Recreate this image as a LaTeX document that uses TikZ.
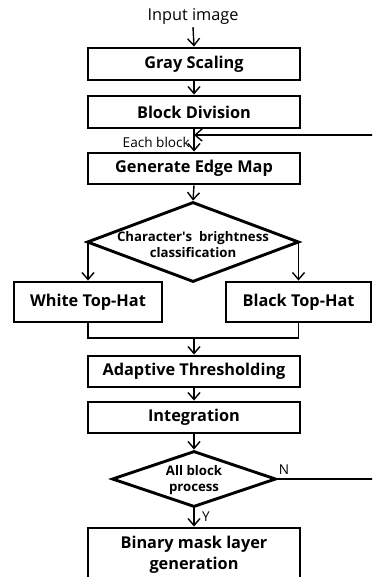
\documentclass[tikz,border=0pt]{standalone}
\usepackage{fontspec}
\setmainfont{Open Sans}
\usetikzlibrary{shapes.geometric,arrows.meta,calc}
\begin{document}
\begin{tikzpicture}[x=1pt,y=-1pt,
  procbox/.style={draw,line width=2.9pt,rectangle,minimum width=212pt,minimum height=32pt,inner sep=0pt,
     font=\fontsize{16.3}{18}\selectfont\bfseries,align=center},
  decbox/.style={draw,line width=2.9pt,diamond,inner sep=0pt,aspect=2.6},
  dectext/.style={font=\fontsize{13.2}{16}\selectfont\bfseries,align=center,inner sep=0pt},
  conn/.style={line width=1.4pt,-{Straight Barb[length=7pt,width=12pt,line width=1.4pt]}},
  plainline/.style={line width=1.4pt},
  small/.style={font=\fontsize{13.6}{15}\selectfont,inner sep=1pt}]
\useasboundingbox (0,0) rectangle (372,577);
\clip (0,0) rectangle (372,577);
\fill[white] (0,0) rectangle (372,577);
\node[font=\fontsize{16.3}{18}\selectfont,inner sep=0pt] (input) at (193,16) {Input image};
\node[procbox] (gray) at (194,64) {Gray Scaling};
\node[procbox] (block) at (194,112) {Block Division};
\node[procbox,minimum height=31pt] (edge) at (194,168.5) {Generate Edge Map};
\node[decbox,minimum width=212pt,minimum height=80pt] (d1) at (193,242) {};
\node[dectext] (d1t) at (193,245) {Character\textquotesingle s\ \ brightness\\classification};
\node[procbox,minimum width=148pt,minimum height=40pt] (white) at (88,302) {White Top-Hat};
\node[procbox,minimum width=145pt,minimum height=40pt] (black) at (298.5,302) {Black Top-Hat};
\node[procbox,minimum height=31pt] (adapt) at (194,371.5) {Adaptive Thresholding};
\node[procbox,minimum height=31pt] (integ) at (194,417.5) {Integration};
\node[decbox,minimum width=164pt,minimum height=56pt,aspect=2.9] (d2) at (194,479) {};
\node[dectext] (d2t) at (194,480.5) {All block\\process};
\node[procbox,minimum height=54pt,font=\fontsize{16.3}{21}\selectfont\bfseries] (binary) at (194,555) {Binary mask layer\\generation};
\coordinate (join) at (194,338);
\coordinate (fbin) at (194,135);
\coordinate (fbtop) at (420,135);
\coordinate (fbbot) at (420,479);

\draw[conn] ([yshift=-3pt]input.south) -- (gray.north);
\draw[conn] (gray.south) -- (block.north);
\draw[conn] (block.south) -- (edge.north);
\node[small,anchor=east] (each) at (191,142) {Each block};
\draw[conn] (edge.south) -- (d1.north);
\draw[conn] (d1.west) -| (white.north);
\draw[conn] (d1.east) -| (black.north);
\draw[plainline] (white.south) |- (join) -| (black.south);
\draw[conn] (join) -- (adapt.north);
\draw[conn] (adapt.south) -- (integ.north);
\draw[conn] (integ.south) -- (d2.north);
\draw[conn] (d2.south) -- (binary.north);
\node[small] (ylab) at (206,517) {Y};
\draw[line width=1.2pt] (d2.east) -- (fbbot) -- (fbtop);
\draw[conn,line width=1.2pt] (fbtop) -- (fbin);
\node[small] (nlab) at (284,470) {N};
\end{tikzpicture}
\end{document}
